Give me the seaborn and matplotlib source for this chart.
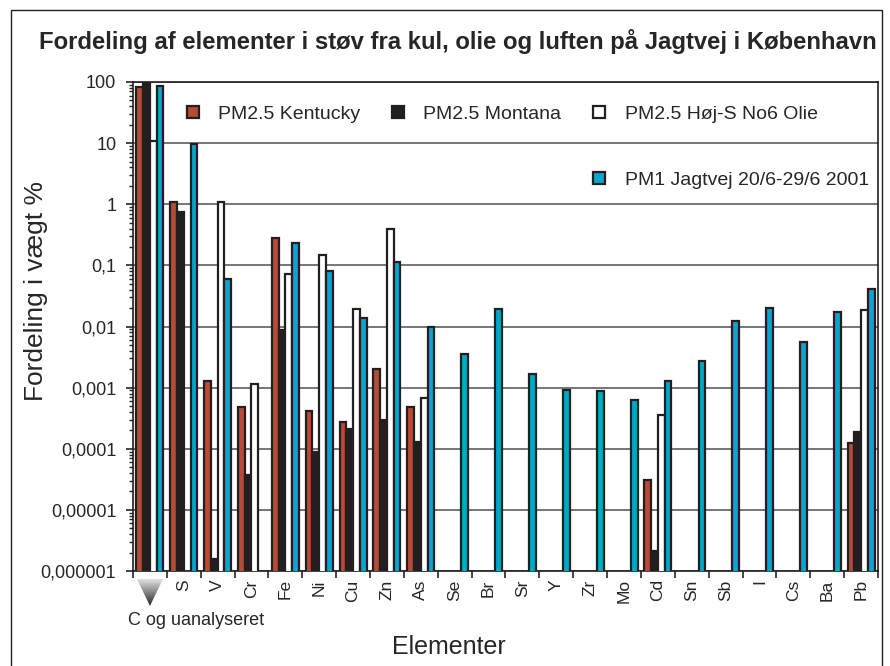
import numpy as np
import pandas as pd
import matplotlib
matplotlib.use('Agg')
import matplotlib.pyplot as plt
import seaborn as sns
from matplotlib.patches import Patch, Polygon, Rectangle

sns.set_style("ticks")
plt.rcParams['font.family'] = ['Liberation Sans', 'DejaVu Sans']

nan = np.nan

# --------- data (% by weight) ------------------------------
elements = ['C', 'S', 'V', 'Cr', 'Fe', 'Ni', 'Cu', 'Zn', 'As', 'Se', 'Br',
            'Sr', 'Y', 'Zr', 'Mo', 'Cd', 'Sn', 'Sb', 'I', 'Cs', 'Ba', 'Pb']
tick_names = [''] + elements[1:]   # C is marked with an arrow instead

kentucky = [84, 1.1, 0.0013, 0.00049, 0.28, 0.00041, 0.00027, 0.002, 0.00049,
            nan, nan, nan, nan, nan, nan, 0.000031, nan, nan, nan, nan, nan, 0.000125]
montana = [98, 0.76, 0.0000016, 0.000037, 0.0087, 0.000089, 0.00021, 0.0003, 0.00013,
           nan, nan, nan, nan, nan, nan, 0.0000021, nan, nan, nan, nan, nan, 0.00019]
hoj_s = [11, nan, 1.1, 0.00114, 0.072, 0.15, 0.0195, 0.39, 0.00068,
         nan, nan, nan, nan, nan, nan, 0.00036, nan, nan, nan, nan, nan, 0.0186]
jagtvej = [86, 9.7, 0.06, nan, 0.234, 0.082, 0.0139, 0.113, 0.0097,
           0.0036, 0.019, 0.0017, 0.00092, 0.00088, 0.00062, 0.00128, 0.0027,
           0.0122, 0.02, 0.0055, 0.0172, 0.041]

series_names = ['PM2.5 Kentucky', 'PM2.5 Montana', 'PM2.5 Høj-S No6 Olie',
                'PM1 Jagtvej 20/6-29/6 2001']
series_colors = ['#b84a38', '#231f20', '#ffffff', '#00a8cc']

y_ticks = [1e-6, 1e-5, 1e-4, 1e-3, 1e-2, 1e-1, 1, 10, 100]
y_tick_labels = ['0,000001', '0,00001', '0,0001', '0,001', '0,01', '0,1', '1', '10', '100']

frames = []
for name, vals in zip(series_names, [kentucky, montana, hoj_s, jagtvej]):
    frames.append(pd.DataFrame({'element': elements, 'value': vals, 'series': name}))
df = pd.concat(frames, ignore_index=True)

# --------- figure ----------
fig = plt.figure(figsize=(8.9, 6.66), dpi=100)
ax = fig.add_axes([0.1494, 0.1426, 0.8371, 0.7343])

sns.barplot(
    data=df, x='element', y='value', hue='series',
    order=elements, hue_order=series_names,
    palette=series_colors, saturation=1, edgecolor='#231f20', linewidth=1.6,
    width=0.8, errorbar=None, ax=ax, zorder=3
)

ax.set_yscale('log')
ax.set_ylim(1e-6, 100)
ax.set_xlim(-0.5, len(elements) - 0.5)
ax.set_yticks(y_ticks)
ax.set_yticklabels(y_tick_labels, fontsize=13)
ax.yaxis.grid(True, which='major', color='#5e5e5e', linewidth=1.2, zorder=0)
ax.xaxis.grid(False)
ax.tick_params(axis='y', which='major', direction='out', length=5, width=1.2, pad=7)
ax.tick_params(axis='y', which='minor', direction='out', length=3, width=1)

# element names at the centres, tick marks between groups
ax.set_xticks(range(len(elements)))
ax.set_xticklabels(tick_names, rotation=90, fontsize=12.5)
ax.tick_params(axis='x', which='major', length=0, pad=6)
ax.set_xticks(np.arange(len(elements) + 1) - 0.5, minor=True)
ax.tick_params(axis='x', which='minor', direction='out', length=5, width=1.2)

for s in ax.spines.values():
    s.set_color('#231f20')
    s.set_linewidth(1.2)

ax.set_ylabel('Fordeling i vægt %', fontsize=19)
ax.yaxis.set_label_coords(-0.114, 0.573)
ax.set_xlabel('Elementer', fontsize=18)
ax.xaxis.set_label_coords(0.424, -0.131)

# legend: three entries on the first row, Jagtvej under the third
h, l = ax.get_legend_handles_labels()
blank = Patch(visible=False)
ax.legend([h[0], blank, h[1], blank, h[2], h[3]],
          [l[0], '', l[1], '', l[2], l[3]],
          ncol=3, loc='upper left', bbox_to_anchor=(0.0725, 0.951),
          frameon=False, fontsize=14, borderpad=0, borderaxespad=0,
          handlelength=0.6, handleheight=0.6, handletextpad=1.0,
          columnspacing=1.65, labelspacing=2.5)

# title and the marker for "C og uanalyseret"
fig.text(0.514, 0.937, 'Fordeling af elementer i støv fra kul, olie og luften på Jagtvej i København',
         ha='center', va='center', fontsize=17.2, fontweight='bold')

tri_ax = fig.add_axes([0.1539, 0.0901, 0.0292, 0.0405])
grad = np.linspace(0.88, 0.15, 64).reshape(-1, 1)
img = tri_ax.imshow(grad, cmap='gray', vmin=0, vmax=1, aspect='auto',
                    extent=(0, 1, 0, 1), origin='upper')
img.set_clip_path(Polygon([(0, 1), (1, 1), (0.5, 0)], transform=tri_ax.transAxes))
tri_ax.axis('off')

fig.text(0.1438, 0.069, 'C og uanalyseret', ha='left', va='center', fontsize=13)

fig.patches.append(Rectangle((0.0124, -0.02), 0.9787, 1.005, transform=fig.transFigure,
                             fill=False, edgecolor='#231f20', linewidth=1.0))

fig.savefig('out.png', dpi=100)
